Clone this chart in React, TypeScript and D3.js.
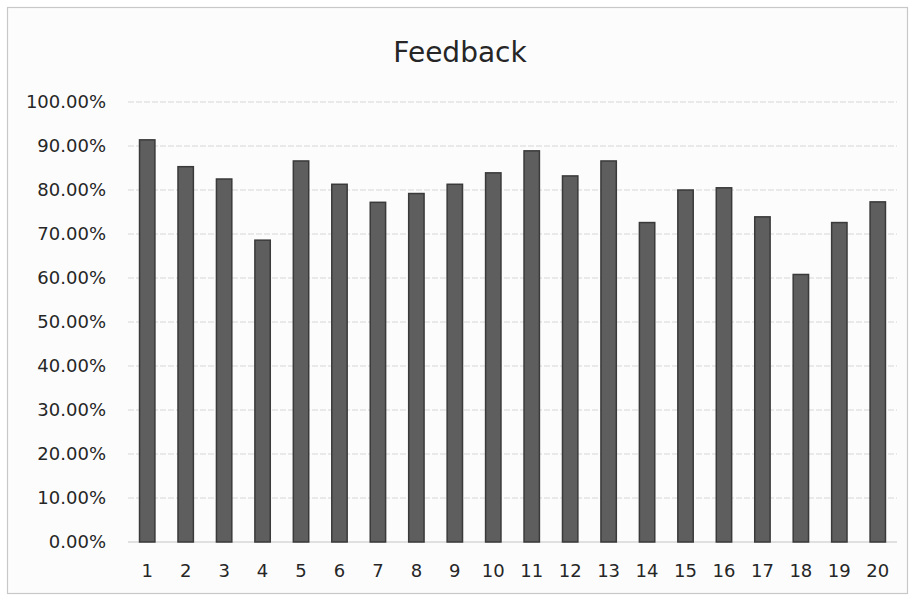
import * as d3 from 'd3'
import { useRef, useEffect } from 'react'

const categories = ['1', '2', '3', '4', '5', '6', '7', '8', '9', '10', '11', '12', '13', '14', '15', '16', '17', '18', '19', '20']
const feedback = [0.914, 0.853, 0.825, 0.686, 0.866, 0.813, 0.772, 0.792, 0.813, 0.839, 0.889, 0.832, 0.866, 0.726, 0.8, 0.805, 0.739, 0.608, 0.726, 0.773]
const yTicks = [0, 0.1, 0.2, 0.3, 0.4, 0.5, 0.6, 0.7, 0.8, 0.9, 1.0]

const W = 915
const H = 599
const FONT = '"DejaVu Sans", sans-serif'

export default function App() {
  const svgRef = useRef<SVGSVGElement>(null)

  useEffect((): void => {
    const svg = d3.select(svgRef.current)
    svg.selectAll('*').remove()

    svg.append('rect')
      .attr('x', 0).attr('y', 0).attr('width', W).attr('height', H)
      .attr('fill', '#ffffff')
    svg.append('rect')
      .attr('x', 7.5).attr('y', 7.5).attr('width', W - 15).attr('height', H - 13)
      .attr('fill', '#fcfcfc')
      .attr('stroke', '#c8c8c8')
      .attr('stroke-width', 1.2)

    const xScale = d3.scaleBand<string>()
      .domain(categories)
      .range([128, 897])
      .paddingInner(0.6)
      .paddingOuter(0.3)
    const yScale = d3.scaleLinear()
      .domain([0, 1])
      .range([542, 102])

    // gridlines
    svg.append('g')
      .selectAll('line')
      .data(yTicks)
      .enter()
      .append('line')
      .attr('x1', 128)
      .attr('x2', 897)
      .attr('y1', d => yScale(d))
      .attr('y2', d => yScale(d))
      .attr('stroke', d => d === 0 ? '#c4c4c4' : '#d6d6d6')
      .attr('stroke-width', 1.2)
      .attr('stroke-dasharray', d => d === 0 ? null : '6 2')

    // y labels
    const yAxis = d3.axisLeft(yScale)
      .tickValues(yTicks)
      .tickFormat(d => (d as number * 100).toFixed(2) + '%')
      .tickSize(0)
      .tickPadding(22)
    const yg = svg.append('g')
      .attr('transform', 'translate(128,0)')
      .call(yAxis)
    yg.select('.domain').remove()
    yg.selectAll('text')
      .attr('font-family', FONT)
      .attr('font-size', 18)
      .attr('fill', '#262626')

    // bars
    svg.append('g')
      .selectAll('rect')
      .data(feedback)
      .enter()
      .append('rect')
      .attr('x', (d, i) => xScale(categories[i])!)
      .attr('y', d => yScale(d))
      .attr('width', xScale.bandwidth())
      .attr('height', d => yScale(0) - yScale(d))
      .attr('fill', '#5e5e5e')
      .attr('stroke', '#3a3a3a')
      .attr('stroke-width', 1.5)

    // x labels
    const xAxis = d3.axisBottom(xScale)
      .tickSize(0)
      .tickPadding(22)
    const xg = svg.append('g')
      .attr('transform', 'translate(0,542)')
      .call(xAxis)
    xg.select('.domain').remove()
    xg.selectAll('text')
      .attr('font-family', FONT)
      .attr('font-size', 18)
      .attr('fill', '#262626')

    svg.append('text')
      .attr('x', 460)
      .attr('y', 62)
      .attr('text-anchor', 'middle')
      .attr('font-family', FONT)
      .attr('font-size', 28)
      .attr('fill', '#262626')
      .text('Feedback')
  }, [])

  return (
    <div style={{ position: 'fixed', left: 0, top: 0 }}>
      <svg ref={svgRef} width={W} height={H} style={{ display: 'block' }}></svg>
    </div>
  )
}
